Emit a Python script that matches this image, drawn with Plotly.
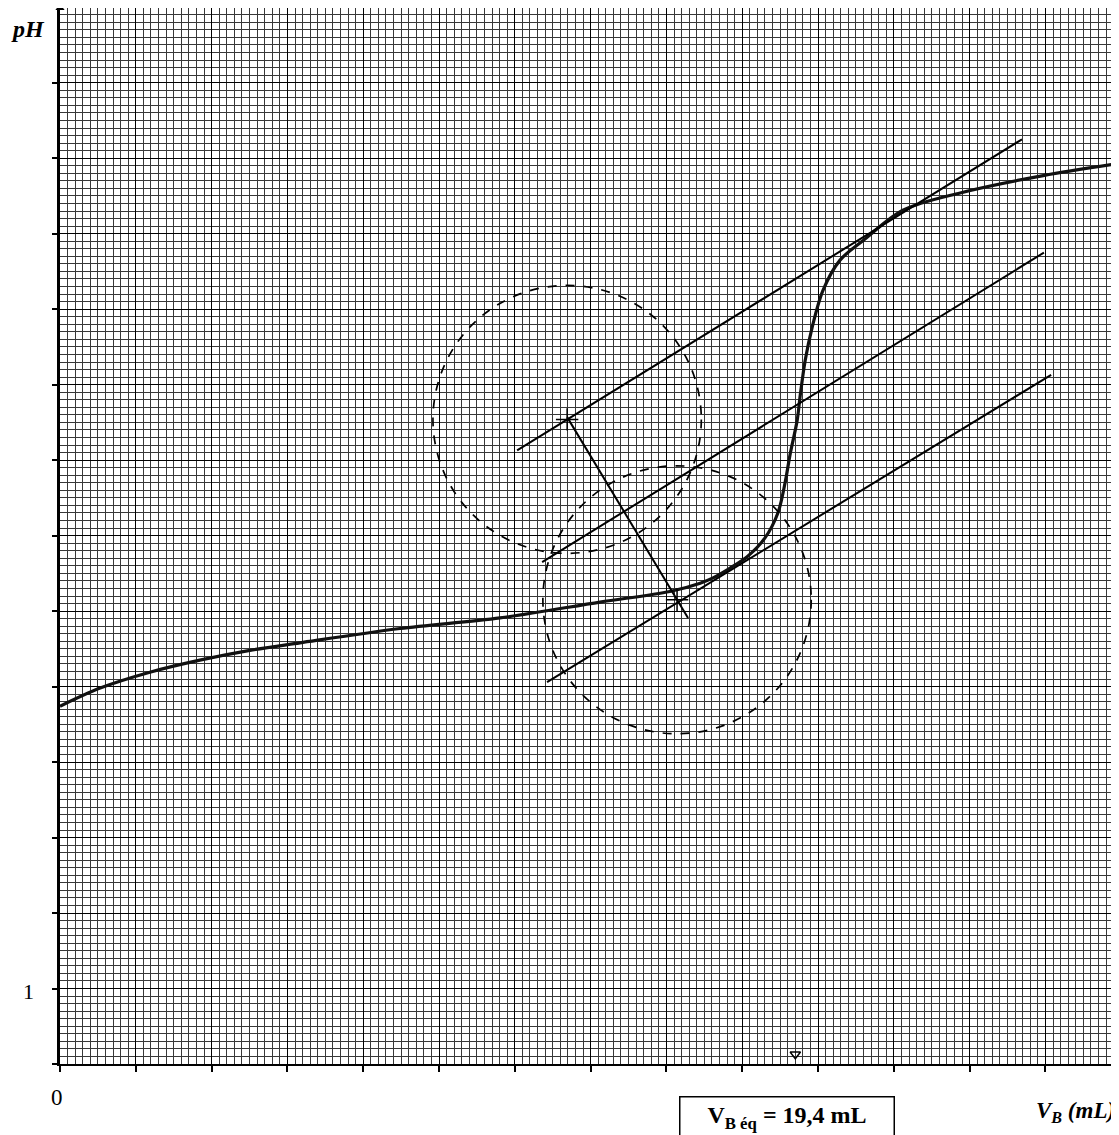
import plotly.graph_objects as go

# ---- data ----
vb = [0, 1.06, 2.37, 3.69, 5.01, 6.33, 8.97, 11.61, 14.25, 16.09, 16.89, 17.23,
      17.68, 18.13, 18.60, 18.94, 19.13, 19.26, 19.45, 19.53, 19.66, 19.84, 20.13,
      20.58, 21.19, 22.24, 23.75, 25.94, 27.94]
ph = [4.74, 4.98, 5.19, 5.35, 5.48, 5.58, 5.77, 5.91, 6.12, 6.26, 6.37, 6.44,
      6.57, 6.72, 6.97, 7.30, 7.70, 8.07, 8.53, 8.86, 9.32, 9.75, 10.25,
      10.65, 10.91, 11.31, 11.54, 11.77, 11.93]

tan_up_x = [12.06, 25.38]
tan_up_y = [8.13, 12.25]
tan_mid_x = [12.72, 25.96]
tan_mid_y = [6.65, 10.75]
tan_low_x = [12.85, 26.15]
tan_low_y = [5.06, 9.13]
perp_x = [13.38, 16.57]
perp_y = [8.57, 5.91]

centers_x = [13.38, 16.28]
centers_y = [8.54, 6.15]
radius_x = 3.54
radius_y = 1.775

v_eq = 19.4
x_max = 27.94
y_max = 13.99

FONT = "Liberation Serif"

fig = go.Figure()

# titration curve
fig.add_trace(go.Scatter(x=vb, y=ph, mode="lines",
                         line=dict(color="#111", width=3.2, shape="spline", smoothing=0.9),
                         hoverinfo="skip", showlegend=False))
# tangents and perpendicular
for tx, ty in [(tan_up_x, tan_up_y), (tan_mid_x, tan_mid_y), (tan_low_x, tan_low_y), (perp_x, perp_y)]:
    fig.add_trace(go.Scatter(x=tx, y=ty, mode="lines", line=dict(color="black", width=2),
                             hoverinfo="skip", showlegend=False))
# centre crosses
fig.add_trace(go.Scatter(x=centers_x, y=centers_y, mode="markers",
                         marker=dict(symbol="cross-thin", size=16, color="black",
                                     line=dict(color="black", width=1.5)),
                         hoverinfo="skip", showlegend=False))
# equivalence mark on axis
fig.add_trace(go.Scatter(x=[v_eq], y=[0.13], mode="markers",
                         marker=dict(symbol="triangle-down-open", size=9, color="black",
                                     line=dict(color="black", width=1.5)),
                         hoverinfo="skip", showlegend=False))
# axis arrowheads
fig.add_trace(go.Scatter(x=[0], y=[y_max], mode="markers", cliponaxis=False,
                         marker=dict(symbol="triangle-up", size=8, color="black"),
                         hoverinfo="skip", showlegend=False))
fig.add_trace(go.Scatter(x=[x_max], y=[0], mode="markers", cliponaxis=False,
                         marker=dict(symbol="triangle-right", size=8, color="black"),
                         hoverinfo="skip", showlegend=False))

# dashed circles
for cx, cy in zip(centers_x, centers_y):
    fig.add_shape(type="circle", xref="x", yref="y",
                  x0=cx - radius_x, x1=cx + radius_x, y0=cy - radius_y, y1=cy + radius_y,
                  line=dict(color="black", width=1.7, dash="dash"))

# texts
annots = [
    dict(text="<b><i>pH</i></b>", x=-0.0302, y=0.980, size=24),
    dict(text="1", x=-0.0293, y=0.0682, size=22),
    dict(text="0", x=-0.0028, y=-0.0313, size=23),
]
for a in annots:
    fig.add_annotation(text=a["text"], x=a["x"], y=a["y"], xref="paper", yref="paper",
                       showarrow=False, font=dict(family=FONT, size=a["size"], color="black"),
                       xanchor="center", yanchor="middle")

fig.add_annotation(text="<b><i>V<sub>B</sub> (mL)</i></b>", x=0.998, y=-0.0455, xref="paper", yref="paper",
                   showarrow=False, font=dict(family=FONT, size=23, color="black"),
                   xanchor="right", yanchor="middle")
fig.add_annotation(text="<b>V<sub>B éq</sub> = 19,4 mL</b>", x=(787 - 60) / 37.9, y=-0.0303,
                   xref="x", yref="paper", showarrow=False,
                   font=dict(family=FONT, size=24, color="black"),
                   xanchor="center", yanchor="top", width=213, height=40,
                   bordercolor="black", borderwidth=1.5, borderpad=0, bgcolor="white")

fig.update_xaxes(range=[0, x_max], showline=True, linecolor="black", linewidth=2,
                 ticks="outside", ticklen=6, tickwidth=2, tickcolor="black", dtick=2, tick0=0,
                 showticklabels=False, showgrid=True, gridcolor="#000", gridwidth=1,
                 minor=dict(dtick=0.2, showgrid=True, gridcolor="#383838", gridwidth=1),
                 zeroline=False, fixedrange=True)
fig.update_yaxes(range=[0, y_max], showline=True, linecolor="black", linewidth=3,
                 ticks="outside", ticklen=5, tickwidth=2, tickcolor="black", dtick=1, tick0=0,
                 showticklabels=False, showgrid=True, gridcolor="#000", gridwidth=1,
                 minor=dict(dtick=0.1, showgrid=True, gridcolor="#383838", gridwidth=1),
                 zeroline=False, fixedrange=True)

fig.update_layout(width=1111, height=1127, margin=dict(l=52, r=0, t=0, b=71),
                  paper_bgcolor="white", plot_bgcolor="white", showlegend=False)

fig.write_html("out.html")
